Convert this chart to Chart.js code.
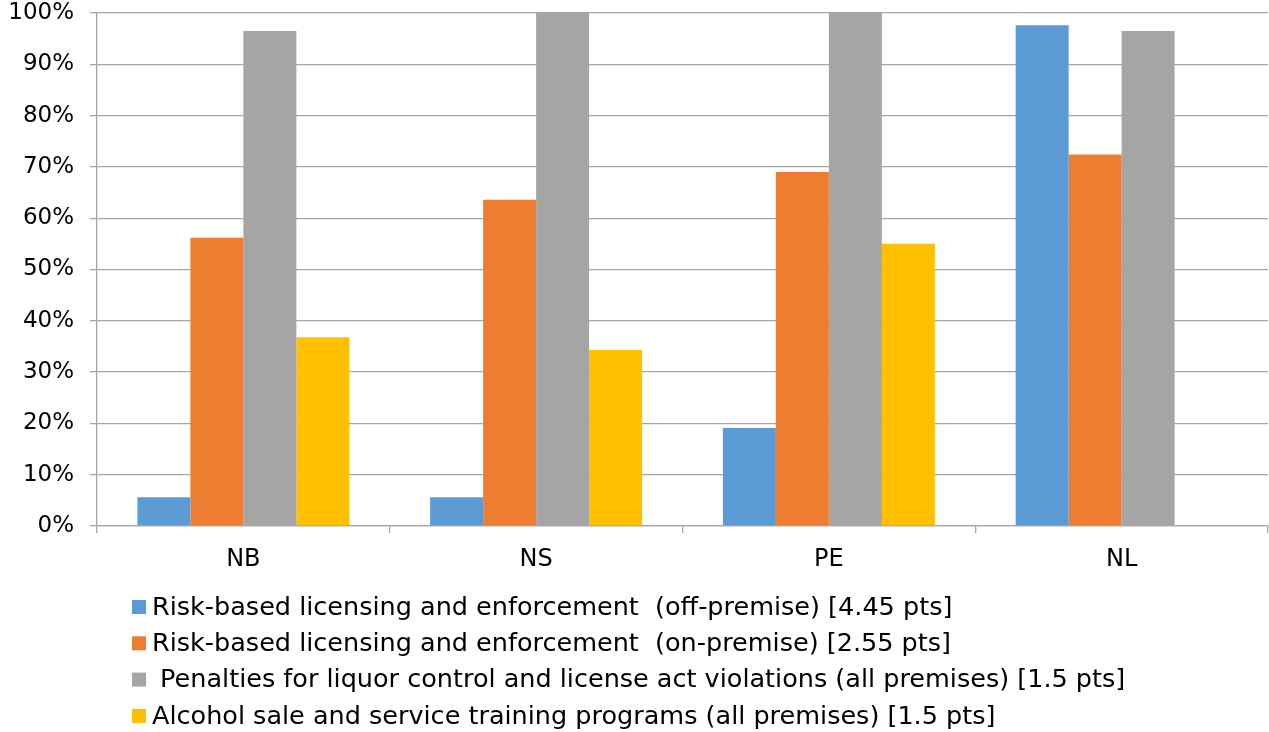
<!DOCTYPE html>
<html>
<head>
<meta charset="utf-8">
<script src="https://cdn.jsdelivr.net/npm/chart.js@4"></script>
<style>
  html, body { margin: 0; padding: 0; background: #fff; }
  #wrap { width: 1269px; height: 732px; }
</style>
</head>
<body>
<div id="wrap"><canvas id="chart"></canvas></div>
<script>
const provinces = ['NB', 'NS', 'PE', 'NL'];

const offPremise = [5.6, 5.6, 19.1, 97.6];
const onPremise  = [56.2, 63.6, 69.0, 72.4];
const penalties  = [96.5, 100, 100, 96.5];
const training   = [36.8, 34.3, 55.0, null];

const seriesNames = [
    'Risk-based licensing and enforcement  (off-premise) [4.45 pts]',
    'Risk-based licensing and enforcement  (on-premise) [2.55 pts]',
    ' Penalties for liquor control and license act violations (all premises) [1.5 pts]',
    'Alcohol sale and service training programs (all premises) [1.5 pts]',
];

const yTicks = [0, 10, 20, 30, 40, 50, 60, 70, 80, 90, 100];

const C = {
    blue:   '#5b9bd5',
    orange: '#ed7d31',
    gray:   '#a5a5a5',
    yellow: '#ffc000',
    grid:   '#a6a6a6',
    text:   '#000000',
};

const FONT = "'DejaVu Sans', sans-serif";

Chart.defaults.font.family = FONT;
Chart.defaults.color = C.text;

// legend rows stacked under the axis, left aligned
const stackedLegend = {
    id: 'stackedLegend',
    afterDraw(chart) {
        const ctx = chart.ctx;
        const x0 = 132, y0 = 607, step = 36.3, box = 14;
        ctx.save();
        ctx.font = `25.5px ${FONT}`;
        ctx.textBaseline = 'middle';
        ctx.textAlign = 'left';
        chart.data.datasets.forEach((ds, i) => {
            const y = y0 + i * step;
            ctx.fillStyle = ds.backgroundColor;
            ctx.fillRect(x0, y - box / 2, box, box);
            ctx.fillStyle = C.text;
            ctx.fillText(ds.label, x0 + box + 6, y + 1);
        });
        ctx.restore();
    }
};

const bar = (label, data, color) => ({
    label, data,
    backgroundColor: color,
    borderWidth: 0,
    categoryPercentage: 0.724,
    barPercentage: 1.0,
});

new Chart(document.getElementById('chart'), {
    type: 'bar',
    data: {
        labels: provinces,
        datasets: [
            bar(seriesNames[0], offPremise, C.blue),
            bar(seriesNames[1], onPremise,  C.orange),
            bar(seriesNames[2], penalties,  C.gray),
            bar(seriesNames[3], training,   C.yellow),
        ]
    },
    options: {
        responsive: true,
        maintainAspectRatio: false,
        animation: false,
        layout: { padding: { top: 13, right: 1, left: 0, bottom: 0 } },
        plugins: {
            legend: { display: false },
            tooltip: { enabled: false },
        },
        scales: {
            x: {
                offset: true,
                grid: { drawOnChartArea: false, drawTicks: true, tickLength: 7, color: C.grid, lineWidth: 1.3, offset: true },
                border: { color: C.grid, width: 1.3 },
                ticks: { font: { size: 24 }, padding: 12, color: C.text },
                afterFit: s => { s.height = 206; },
            },
            y: {
                min: 0, max: 100,
                afterBuildTicks: s => { s.ticks = yTicks.map(v => ({ value: v })); },
                grid: { color: C.grid, lineWidth: 1.3, tickLength: 7 },
                border: { color: C.grid, width: 1.3 },
                ticks: { font: { size: 23 }, padding: 16, color: C.text, callback: v => v + '%' },
                afterFit: s => { s.width = 97; s.paddingTop = 0; s.paddingBottom = 0; },
            }
        }
    },
    plugins: [stackedLegend]
});
</script>
</body>
</html>
